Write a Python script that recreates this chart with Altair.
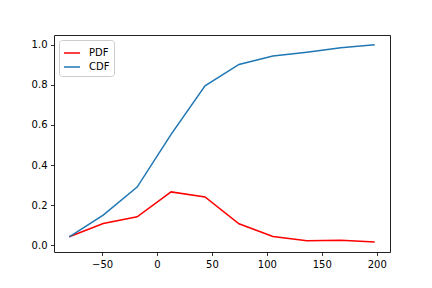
import altair as alt
import pandas as pd

x_vals = [-79.9, -49.0, -18.1, 12.8, 43.7, 74.6, 105.5, 136.4, 167.3, 198.2]
pdf_vals = [0.042, 0.108, 0.142, 0.266, 0.241, 0.107, 0.043, 0.022, 0.025, 0.016]
cdf_vals = [0.042, 0.150, 0.290, 0.553, 0.795, 0.902, 0.944, 0.963, 0.985, 1.000]
series = ["PDF", "CDF"]
colors = ["red", "#1f77b4"]

rows = []
for name, vals in zip(series, [pdf_vals, cdf_vals]):
    for x, y in zip(x_vals, vals):
        rows.append({"x": x, "y": y, "series": name})
df = pd.DataFrame(rows)

font = "DejaVu Sans"

chart = alt.Chart(df).mark_line(strokeWidth=1.5).encode(
    x=alt.X("x:Q",
            scale=alt.Scale(domain=[-93.8, 212.1], nice=False, zero=False),
            axis=alt.Axis(values=[-50, 0, 50, 100, 150, 200], title=None, grid=False,
                          domain=False, tickColor="black", tickSize=3.5, tickWidth=0.8,
                          labelColor="black", labelFontSize=10, labelFont=font,
                          labelPadding=3.5, labelFlush=False)),
    y=alt.Y("y:Q",
            scale=alt.Scale(domain=[-0.034, 1.049], nice=False, zero=False),
            axis=alt.Axis(values=[0, 0.2, 0.4, 0.6, 0.8, 1.0], format=".1f", title=None,
                          grid=False, domain=False, tickColor="black", tickSize=3.5,
                          tickWidth=0.8, labelColor="black", labelFontSize=10,
                          labelFont=font, labelPadding=3.5, labelFlush=False)),
    color=alt.Color("series:N",
                    scale=alt.Scale(domain=series, range=colors),
                    sort=series,
                    legend=alt.Legend(title=None, orient="top-left", offset=5,
                                      symbolType="stroke", symbolSize=260,
                                      symbolStrokeWidth=1.5, labelFontSize=10,
                                      labelFont=font, labelColor="black",
                                      labelOffset=8, padding=4, rowPadding=0,
                                      fillColor="white", strokeColor="#cccccc",
                                      cornerRadius=3)),
    detail="series:N",
).properties(
    width=336, height=217,
    background="white",
    padding={"left": 54, "top": 35, "right": 42, "bottom": 36},
    autosize=alt.AutoSizeParams(type="none"),
).configure_view(
    stroke="#222222", strokeWidth=1
)

chart.save("out.html", embed_options={"renderer": "svg", "actions": False})
